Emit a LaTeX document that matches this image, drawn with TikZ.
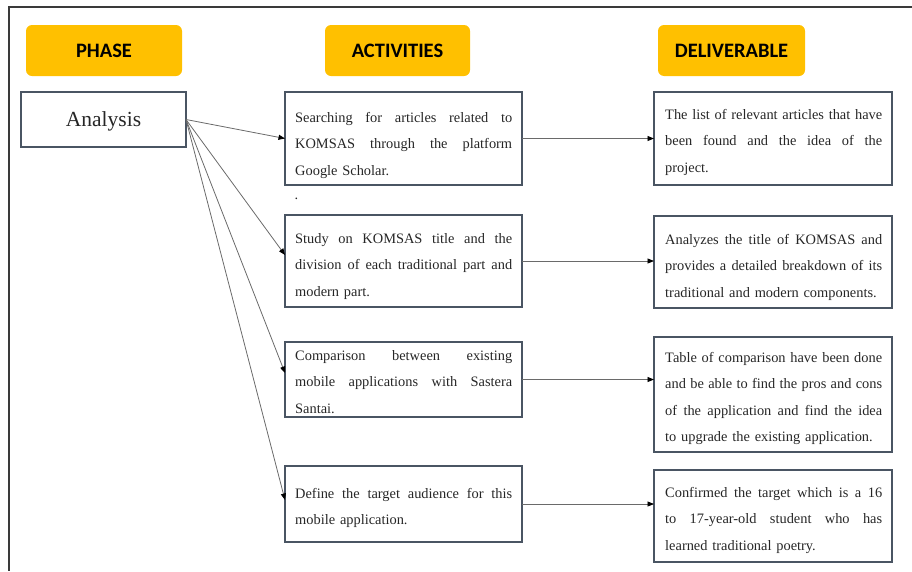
\documentclass[tikz,border=0pt]{standalone}
\usepackage{fontspec}
\setmainfont{Liberation Serif}
\newfontfamily\headfont{Carlito}
\usetikzlibrary{arrows.meta,calc}

\definecolor{gold}{HTML}{FFC000}
\definecolor{boxline}{HTML}{4A5563}
\definecolor{inkgray}{HTML}{262626}
\definecolor{wire}{HTML}{6A6A6A}
\definecolor{framegray}{HTML}{3A3A3A}

% a justified line of box text (font spaces, so they can stretch), and a last line
\newcommand{\jl}[1]{\makebox[217pt][s]{\spaceskip=0pt\xspaceskip=0pt #1}}
\newcommand{\lastline}[1]{\mbox{#1}}

\begin{document}
\begin{tikzpicture}[x=1pt,y=-1pt,
  header/.style={fill=gold, rounded corners=6pt, inner sep=0pt, outer sep=0pt,
    minimum height=51pt, text=black,
    font=\headfont\bfseries\fontsize{20.5}{24}\selectfont},
  phasebox/.style={draw=boxline, line width=1.3pt, inner sep=0pt, outer sep=0pt,
    minimum width=165pt, minimum height=55pt, text=inkgray, text depth=0pt,
    font=\fontsize{21.5}{26}\selectfont},
  itembox/.style={draw=boxline, line width=1.3pt, inner sep=0pt, outer sep=0pt,
    minimum width=237pt},
  itemtext/.style={anchor=base west, inner sep=0pt, text width=240pt, align=left,
    text=inkgray, font=\fontsize{14.4}{26.6}\selectfont},
  link/.style={draw=wire, line width=0.8pt,
    -{Triangle[length=6.5pt,width=5pt,fill=black,color=black]}},
  frameline/.style={draw=framegray, line width=1.1pt}
]
\useasboundingbox (0,0) rectangle (912,571);

% outer frame
\draw[frameline] (912,7) -- (9,7) -- (9,571);

% column headers
\node[header, minimum width=156pt] (hphase) at (104,50.5) {PHASE};
\node[header, minimum width=145pt] (hact) at (397.5,50.5) {ACTIVITIES};
\node[header, minimum width=147pt] (hdel) at (731.5,50.5) {DELIVERABLE};

% phase
\node[phasebox] (an) at (103.5,119.5) {Analysis};

% activities
\node[itembox, minimum height=93pt] (a1) at (403.5,138.5) {};
\node[itembox, minimum height=92pt] (a2) at (403.5,261) {};
\node[itembox, minimum height=75pt] (a3) at (403.5,379.5) {};
\node[itembox, minimum height=76pt] (a4) at (403.5,504) {};

\node[itemtext] (a1t) at (295,122) {\jl{Searching for articles related to}\\
  \jl{KOMSAS through the platform}\\ \lastline{Google Scholar.}};
\node[itemtext] (a2t) at (295,243) {\jl{Study on KOMSAS title and the}\\
  \jl{division of each traditional part and}\\ \lastline{modern part.}};
\node[itemtext] (a3t) at (295,360) {\jl{Comparison between existing}\\
  \jl{mobile applications with Sastera}\\ \lastline{Santai.}};
\node[itemtext] (a4t) at (295,498) {\jl{Define the target audience for this}\\
  \lastline{mobile application.}};
\node[anchor=base west, inner sep=0pt, text=inkgray,
  font=\fontsize{14.4}{18}\selectfont] (dot) at (294.5,199) {.};

% deliverables
\node[itembox, minimum width=238pt, minimum height=93pt] (d1) at (773,138.5) {};
\node[itembox, minimum width=238pt, minimum height=92pt] (d2) at (773,262) {};
\node[itembox, minimum width=238pt, minimum height=115pt] (d3) at (773,394.5) {};
\node[itembox, minimum width=238pt, minimum height=92pt] (d4) at (773,516) {};

\node[itemtext] (d1t) at (665,119) {\jl{The list of relevant articles that have}\\
  \jl{been found and the idea of the}\\ \lastline{project.}};
\node[itemtext] (d2t) at (665,244) {\jl{Analyzes the title of KOMSAS and}\\
  \jl{provides a detailed breakdown of its}\\ \lastline{traditional and modern components.}};
\node[itemtext] (d3t) at (665,362) {\jl{Table of comparison have been done}\\
  \jl{and be able to find the pros and cons}\\
  \jl{of the application and find the idea}\\ \lastline{to upgrade the existing application.}};
\node[itemtext] (d4t) at (665,497) {\jl{Confirmed the target which is a 16}\\
  \jl{to 17-year-old student who has}\\ \lastline{learned traditional poetry.}};

% phase -> activities
\draw[link] (an.east) -- (a1.west);
\draw[link] (an.east) -- ($(a2.west)+(0,-6)$);
\draw[link] (an.east) -- ($(a3.west)+(0,-6.5)$);
\draw[link] (an.east) -- ($(a4.west)+(0,-4)$);

% activities -> deliverables
\draw[link] (a1.east) -- (a1.east -| d1.west);
\draw[link] (a2.east) -- (a2.east -| d2.west);
\draw[link] (a3.east) -- (a3.east -| d3.west);
\draw[link] (a4.east) -- (a4.east -| d4.west);
\end{tikzpicture}
\end{document}
